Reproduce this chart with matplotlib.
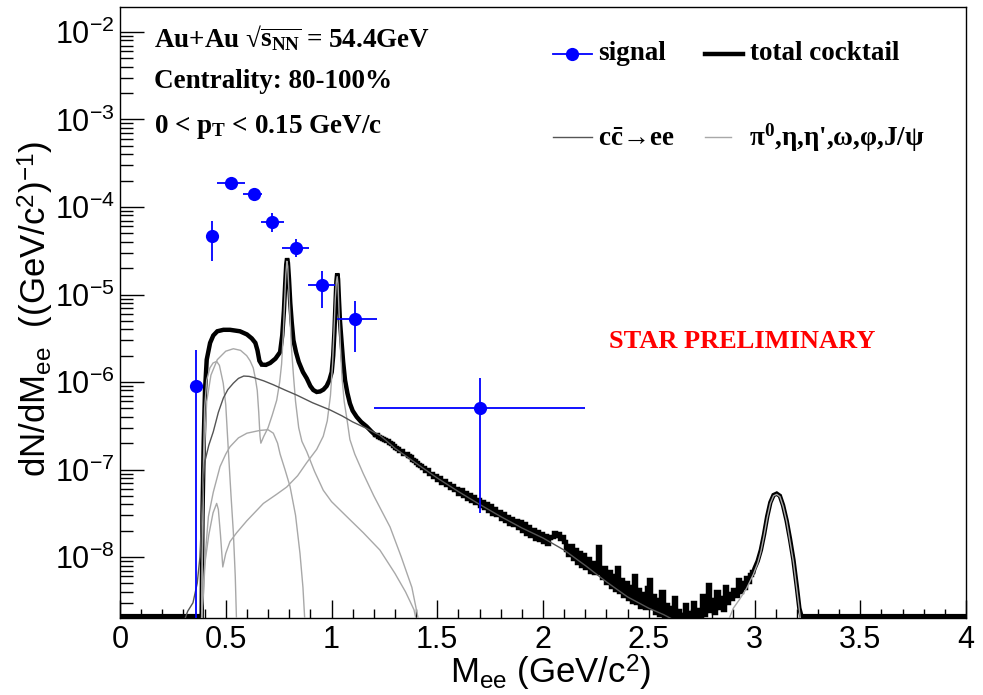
import numpy as np
import matplotlib
matplotlib.use("Agg")
import matplotlib.pyplot as plt
from matplotlib.lines import Line2D
from matplotlib.ticker import MultipleLocator, FormatStrFormatter, LogLocator, NullFormatter

plt.rcParams['font.family'] = ['Liberation Sans', 'DejaVu Sans']
plt.rcParams['mathtext.fontset'] = 'custom'
plt.rcParams['mathtext.rm'] = 'Liberation Serif:bold'
plt.rcParams['mathtext.it'] = 'Liberation Serif:bold'
plt.rcParams['mathtext.bf'] = 'Liberation Serif:bold'
plt.rcParams['mathtext.fallback'] = 'stix'
plt.rcParams['axes.unicode_minus'] = False

# ---------------- data ----------------
sig_x = [0.36, 0.436, 0.525, 0.634, 0.72, 0.83, 0.953, 1.111, 1.70]
sig_y = [9.0e-7, 4.7e-5, 1.9e-4, 1.41e-4, 6.8e-5, 3.37e-5, 1.28e-5, 5.3e-6, 5.1e-7]
sig_xlo = [0.35, 0.425, 0.46, 0.583, 0.667, 0.767, 0.887, 1.024, 1.20]
sig_xhi = [0.37, 0.447, 0.591, 0.673, 0.775, 0.894, 1.017, 1.214, 2.20]
sig_ylo = [0.0, 2.42e-5, 1.75e-4, 1.30e-4, 5.2e-5, 2.7e-5, 6.95e-6, 2.18e-6, 3.2e-8]
sig_yhi = [2.3e-6, 6.97e-5, 2.07e-4, 1.53e-4, 8.5e-5, 4.3e-5, 1.86e-5, 8.5e-6, 1.11e-6]

# total cocktail, low-mass part
tot_low_x = [0.0, 0.386, 0.390, 0.396, 0.402, 0.41, 0.426, 0.441, 0.46, 0.489, 0.52, 0.567,
             0.60, 0.623, 0.64, 0.65, 0.659, 0.67, 0.69, 0.71, 0.735, 0.757, 0.767, 0.775,
             0.781, 0.786, 0.790, 0.794, 0.799, 0.805, 0.812, 0.82, 0.832, 0.845, 0.865,
             0.883, 0.90, 0.914, 0.93, 0.946, 0.962, 0.977, 0.99, 1.001, 1.008, 1.014,
             1.019, 1.023, 1.027, 1.031, 1.035, 1.04, 1.047, 1.055, 1.064, 1.075, 1.087,
             1.10, 1.119, 1.14, 1.166, 1.19, 1.205]
tot_low_y = [0, 0, 3e-8, 2.2e-7, 8e-7, 1.8e-6, 2.8e-6, 3.4e-6, 3.8e-6, 3.95e-6, 3.95e-6, 3.8e-6,
             3.5e-6, 3.15e-6, 2.8e-6, 2.3e-6, 1.75e-6, 1.58e-6, 1.57e-6, 1.65e-6, 1.85e-6, 2.2e-6,
             3.4e-6, 6.5e-6, 1.3e-5, 2.2e-5, 2.6e-5, 2.3e-5, 1.5e-5, 8e-6, 4.8e-6, 3.0e-6, 2.2e-6,
             1.7e-6, 1.3e-6, 1.1e-6, 9e-7, 8.1e-7, 7.7e-7, 7.8e-7, 8.2e-7, 9e-7, 1.05e-6, 1.3e-6,
             2.0e-6, 3.8e-6, 8e-6, 1.4e-5, 1.75e-5, 1.5e-5, 9e-6, 5e-6, 3e-6, 1.7e-6, 1.05e-6,
             7.5e-7, 5.7e-7, 4.7e-7, 4e-7, 3.5e-7, 3.1e-7, 2.7e-7, 2.5e-7]

# total cocktail, continuum (bins of 0.01 from 1.20 to 3.00)
tot_cont_y = [
    2.5e-7, 2.45e-7, 2.38e-7, 2.3e-7, 2.26e-7, 2.16e-7, 2.12e-7, 2.02e-7, 1.98e-7, 1.86e-7,
    1.78e-7, 1.72e-7, 1.64e-7, 1.62e-7, 1.52e-7, 1.5e-7, 1.41e-7, 1.38e-7, 1.3e-7, 1.24e-7,
    1.2e-7, 1.12e-7, 1.1e-7, 1.04e-7, 9.6e-8, 9.9e-8, 9.0e-8, 8.9e-8, 8.2e-8, 8.5e-8,
    7.6e-8, 7.9e-8, 7.1e-8, 7.3e-8, 6.6e-8, 6.9e-8, 6.1e-8, 6.5e-8, 5.8e-8, 6.0e-8,
    5.3e-8, 5.8e-8, 5.0e-8, 5.4e-8, 4.6e-8, 5.1e-8, 4.4e-8, 4.8e-8, 4.1e-8, 4.5e-8,
    3.8e-8, 4.3e-8, 3.6e-8, 4.0e-8, 3.4e-8, 3.8e-8, 3.1e-8, 3.5e-8, 3.0e-8, 3.3e-8,
    2.7e-8, 3.1e-8, 2.6e-8, 2.9e-8, 2.4e-8, 2.75e-8, 2.3e-8, 2.6e-8, 2.15e-8, 2.5e-8,
    2.0e-8, 2.4e-8, 1.85e-8, 2.2e-8, 1.75e-8, 2.05e-8, 1.6e-8, 1.95e-8, 1.55e-8, 1.85e-8,
    1.5e-8, 1.75e-8, 1.4e-8, 1.65e-8, 1.7e-8, 1.9e-8, 1.75e-8, 1.85e-8, 1.6e-8, 1.7e-8,
    1.5e-8, 1.2e-8, 1.05e-8, 1.35e-8, 9.5e-9, 1.2e-8, 8.5e-9, 1.1e-8, 7.8e-9, 1.05e-8,
    7.5e-9, 9.5e-9, 6.8e-9, 8.5e-9, 6.5e-9, 7.5e-9, 1.3e-8, 6.5e-9, 5.8e-9, 7.5e-9,
    5.0e-9, 6.8e-9, 4.6e-9, 6.0e-9, 4.2e-9, 7.5e-9, 4.0e-9, 5.4e-9, 3.6e-9, 5.0e-9,
    3.3e-9, 4.6e-9, 3.1e-9, 6.0e-9, 3.0e-9, 4.2e-9, 2.7e-9, 3.8e-9, 2.6e-9, 4.4e-9,
    5.5e-9, 2.6e-9, 3.6e-9, 2.3e-9, 3.2e-9, 2.2e-9, 4.0e-9, 2.1e-9, 2.8e-9, 2.0e-9,
    2.6e-9, 1.9e-9, 3.4e-9, 2.0e-9, 2.4e-9, 1.8e-9, 2.2e-9, 2.8e-9, 1.9e-9, 2.3e-9,
    1.8e-9, 3.0e-9, 2.0e-9, 2.5e-9, 1.9e-9, 3.6e-9, 2.2e-9, 2.7e-9, 4.8e-9, 2.4e-9,
    3.2e-9, 2.3e-9, 4.0e-9, 2.6e-9, 3.4e-9, 2.5e-9, 4.6e-9, 3.0e-9, 3.8e-9, 3.3e-9,
    4.2e-9, 3.6e-9, 5.4e-9, 4.0e-9, 5.0e-9, 4.4e-9, 5.8e-9, 5.2e-9, 6.2e-9, 6.8e-9]
cont_start, cont_width = 1.20, 0.01

# total cocktail, J/psi part
tot_jpsi_x = [2.995, 3.0, 3.015, 3.03, 3.045, 3.06, 3.075, 3.09, 3.105, 3.12, 3.135, 3.152,
              3.168, 3.184, 3.20, 3.212, 3.222, 4.0]
tot_jpsi_y = [6.8e-9, 7.4e-9, 9e-9, 1.2e-8, 1.8e-8, 2.9e-8, 4.2e-8, 5.1e-8, 5.3e-8, 5.0e-8,
              3.9e-8, 2.6e-8, 1.6e-8, 9.3e-9, 4.6e-9, 2.6e-9, 0, 0]

# c cbar -> ee
ccbar_x = [0.29, 0.32, 0.345, 0.365, 0.378, 0.386, 0.393, 0.40, 0.42, 0.441, 0.465, 0.489,
           0.51, 0.536, 0.56, 0.585, 0.61, 0.63, 0.68, 0.725, 0.78, 0.835, 0.91, 0.993, 1.05,
           1.10, 1.166, 1.23, 1.3, 1.4, 1.5, 1.6, 1.7, 1.8, 1.9, 2.0, 2.1, 2.2, 2.3, 2.4, 2.5,
           2.57, 2.62]
ccbar_y = [1.5e-9, 2.4e-9, 3e-9, 5e-9, 1e-8, 3e-8, 7e-8, 1.2e-7, 1.9e-7, 2.7e-7, 4.5e-7, 6.6e-7,
           8.2e-7, 9.7e-7, 1.1e-6, 1.17e-6, 1.16e-6, 1.13e-6, 1.03e-6, 9.3e-7, 8.1e-7, 7.1e-7,
           5.8e-7, 4.8e-7, 4.1e-7, 3.5e-7, 2.95e-7, 2.45e-7, 1.75e-7, 1.18e-7, 8e-8, 5.6e-8,
           4e-8, 2.9e-8, 2.15e-8, 1.65e-8, 1.2e-8, 8e-9, 5.2e-9, 3.5e-9, 2.6e-9, 2.2e-9, 1.9e-9]

# eta Dalitz
eta_x = [0.386, 0.392, 0.40, 0.41, 0.425, 0.44, 0.457, 0.47, 0.488, 0.50, 0.512, 0.525, 0.536,
         0.545, 0.552]
eta_y = [0, 6e-8, 5e-7, 1.05e-6, 1.45e-6, 1.65e-6, 1.72e-6, 1.55e-6, 9.7e-7, 5.5e-7, 1.7e-7,
         5e-8, 1.9e-8, 6e-9, 1.5e-9]

# omega (Dalitz + ee)
omega_x = [0.386, 0.395, 0.41, 0.43, 0.46, 0.50, 0.536, 0.57, 0.599, 0.615, 0.63, 0.64, 0.649,
           0.656, 0.662, 0.666, 0.68, 0.70, 0.72, 0.741, 0.755, 0.764, 0.772, 0.778, 0.784,
           0.789, 0.793, 0.798, 0.804, 0.81, 0.82, 0.83, 0.845, 0.86, 0.883, 0.92, 0.961, 1.0,
           1.072, 1.15, 1.229, 1.30, 1.35, 1.39, 1.41]
omega_y = [0, 1e-7, 6e-7, 1.2e-6, 1.8e-6, 2.25e-6, 2.4e-6, 2.3e-6, 2.0e-6, 1.75e-6, 1.45e-6,
           1.1e-6, 8e-7, 4.5e-7, 2.4e-7, 2.0e-7, 2.4e-7, 3e-7, 4.2e-7, 6.2e-7, 1.0e-6, 1.6e-6,
           3.5e-6, 8e-6, 1.7e-5, 2.4e-5, 2.1e-5, 1.2e-5, 5.5e-6, 2.6e-6, 1.2e-6, 6e-7, 3e-7,
           2.1e-7, 1.6e-7, 9.5e-8, 5.8e-8, 4.3e-8, 2.9e-8, 1.9e-8, 1.2e-8, 6.5e-9, 4e-9, 2.5e-9,
           1.5e-9]

# eta'
etap_x = [0.386, 0.395, 0.405, 0.418, 0.441, 0.473, 0.50, 0.52, 0.56, 0.60, 0.662, 0.70, 0.725,
          0.745, 0.757, 0.78, 0.804, 0.83, 0.851, 0.865, 0.876]
etap_y = [0, 4e-9, 1.2e-8, 2.9e-8, 5.5e-8, 1.08e-7, 1.5e-7, 1.82e-7, 2.3e-7, 2.6e-7, 2.8e-7,
          2.85e-7, 2.6e-7, 2.0e-7, 1.5e-7, 1.0e-7, 6.4e-8, 3e-8, 1.1e-8, 4.5e-9, 1.5e-9]

# phi (Dalitz + ee)
phi_x = [0.386, 0.40, 0.42, 0.44, 0.457, 0.465, 0.475, 0.486, 0.50, 0.52, 0.552, 0.60, 0.678,
         0.74, 0.788, 0.84, 0.883, 0.93, 0.961, 0.98, 0.995, 1.005, 1.012, 1.018, 1.023, 1.027,
         1.031, 1.036, 1.042, 1.05, 1.06, 1.075, 1.087, 1.11, 1.15, 1.20, 1.277, 1.33, 1.38, 1.42]
phi_y = [0, 8e-9, 1.8e-8, 3.2e-8, 4.1e-8, 3.5e-8, 1.8e-8, 7.7e-9, 1.1e-8, 1.5e-8, 1.9e-8, 2.6e-8,
         4.1e-8, 5.2e-8, 6.3e-8, 8.5e-8, 1.2e-7, 1.7e-7, 2.4e-7, 3.6e-7, 7e-7, 1.6e-6, 4e-6,
         9e-6, 1.4e-5, 1.6e-5, 1.3e-5, 6e-6, 2.5e-6, 1.1e-6, 6e-7, 3.5e-7, 2.2e-7, 1.5e-7, 9e-8,
         5e-8, 2.2e-8, 1e-8, 4.5e-9, 1.5e-9]

# J/psi
jpsi_x = [2.86, 2.90, 2.93, 2.963, 2.994, 3.015, 3.03, 3.045, 3.06, 3.075, 3.09, 3.105, 3.12,
          3.135, 3.152, 3.168, 3.184, 3.20, 3.212, 3.222]
jpsi_y = [1.5e-9, 2.6e-9, 3.3e-9, 4.4e-9, 6.3e-9, 8.5e-9, 1.15e-8, 1.75e-8, 2.8e-8, 4.1e-8,
          5.0e-8, 5.2e-8, 4.9e-8, 3.8e-8, 2.55e-8, 1.5e-8, 8.8e-9, 4.3e-9, 2.5e-9, 1.5e-9]

x_ticks = [0, 0.5, 1, 1.5, 2, 2.5, 3, 3.5, 4]

# ---------------- figure ----------------
W, H = 983, 695
YMIN, YMAX = 2.01e-9, 1.93e-2
fig = plt.figure(figsize=(W / 100, H / 100), dpi=100)
ax = fig.add_axes([120 / W, 1 - 618 / H, 846 / W, 611 / H])
ax.set_yscale('log')
ax.set_xlim(0, 4)
ax.set_ylim(YMIN, YMAX)


def show(y, floor):
    y = np.asarray(y, dtype=float)
    return np.where(y > 0, y, floor)


BLK = dict(color='black', lw=3.2, solid_joinstyle='miter', zorder=3)
ax.plot(tot_low_x, show(tot_low_y, YMIN * 1.05), **BLK)
cont_x = cont_start + cont_width * (np.arange(len(tot_cont_y)) + 0.5)
ax.plot(cont_x, tot_cont_y, drawstyle='steps-mid', **BLK)
ax.plot(tot_jpsi_x, show(tot_jpsi_y, YMIN * 1.05), **BLK)

GRAY = dict(color='#a8a8a8', lw=1.0, zorder=4)
for cx, cy in [(eta_x, eta_y), (omega_x, omega_y), (etap_x, etap_y), (phi_x, phi_y),
               (jpsi_x, jpsi_y)]:
    ax.plot(cx, show(cy, YMIN), **GRAY)
ax.plot(ccbar_x, ccbar_y, color='#555555', lw=1.0, zorder=4)

sx = np.asarray(sig_x); sy = np.asarray(sig_y)
xerr = [sx - np.asarray(sig_xlo), np.asarray(sig_xhi) - sx]
ylo = np.maximum(np.asarray(sig_ylo), 1e-12)
yerr = [sy - ylo, np.asarray(sig_yhi) - sy]
ax.errorbar(sx, sy, xerr=xerr, yerr=yerr, fmt='o', color='blue', ms=9.5, mew=0,
            elinewidth=1.3, capsize=0, zorder=6)

# axes styling
for s in ax.spines.values():
    s.set_linewidth(1.0)
    s.set_color('black')
ax.set_xticks(x_ticks)
ax.xaxis.set_major_formatter(FormatStrFormatter('%g'))
ax.xaxis.set_minor_locator(MultipleLocator(0.1))
ax.yaxis.set_major_locator(LogLocator(base=10, numticks=20))
ax.yaxis.set_minor_locator(LogLocator(base=10, subs=np.arange(2, 10), numticks=20))
ax.yaxis.set_minor_formatter(NullFormatter())
ax.tick_params(which='both', direction='in', top=False, right=False, color='black')
ax.tick_params(axis='x', which='major', length=13, width=1, pad=5, labelsize=22)
ax.tick_params(axis='x', which='minor', length=6.5, width=1)
ax.tick_params(axis='y', which='major', length=17, width=1, pad=4, labelsize=22)
ax.tick_params(axis='y', which='minor', length=9, width=1)


def fp(x, y):
    return x / W, 1 - y / H


# axis titles
fig.text(*fp(551, 673), r'M$_{\mathdefault{ee}}$ (GeV/c$^{\mathdefault{2}}$)', fontsize=25,
         ha='center', va='center')
fig.text(*fp(36, 309), r'dN/dM$_{\mathdefault{ee}}$  ((GeV/c$^{\mathdefault{2}}$)$^{\mathdefault{-1}}$)',
         fontsize=25, ha='center', va='center', rotation=90)

SERIF = dict(family=['Liberation Serif', 'DejaVu Serif'], weight='bold', fontsize=19.5)
fig.text(*fp(154, 47), r'Au+Au √$\overline{\mathrm{s}_{\mathrm{NN}}}$ = 54.4GeV',
         va='baseline', **SERIF)
fig.text(*fp(154, 88), 'Centrality: 80-100%', va='baseline', **SERIF)
fig.text(*fp(154, 133), r'0 < p$_{T}$ < 0.15 GeV/c', va='baseline', **SERIF)

# legend (drawn by hand)
fig.add_artist(Line2D([553 / W, 592 / W], [1 - 54 / H] * 2, color='blue', lw=1.3))
fig.add_artist(Line2D([572 / W], [1 - 54 / H], color='blue', marker='o', ms=9.5, mew=0, lw=0))
fig.text(*fp(598, 60), 'signal', va='baseline', **SERIF)
fig.add_artist(Line2D([705 / W, 743 / W], [1 - 54 / H] * 2, color='black', lw=3.2))
fig.text(*fp(750, 60), 'total cocktail', va='baseline', **SERIF)
fig.add_artist(Line2D([553 / W, 592 / W], [1 - 137 / H] * 2, color='#555555', lw=1.0))
fig.text(*fp(598, 146), r'c$\bar{c}$→ee', va='baseline', **SERIF)
fig.add_artist(Line2D([705 / W, 731 / W], [1 - 137 / H] * 2, color='#a8a8a8', lw=1.0))
fig.text(*fp(749, 146), r"π$^{0}$,η,η',ω,φ,J/ψ", va='baseline', **SERIF)

fig.text(*fp(742, 348), 'STAR PRELIMINARY', color='red', ha='center', va='baseline',
         family=['Liberation Serif', 'DejaVu Serif'], weight='bold', fontsize=19)

fig.savefig('out.png', dpi=100)
